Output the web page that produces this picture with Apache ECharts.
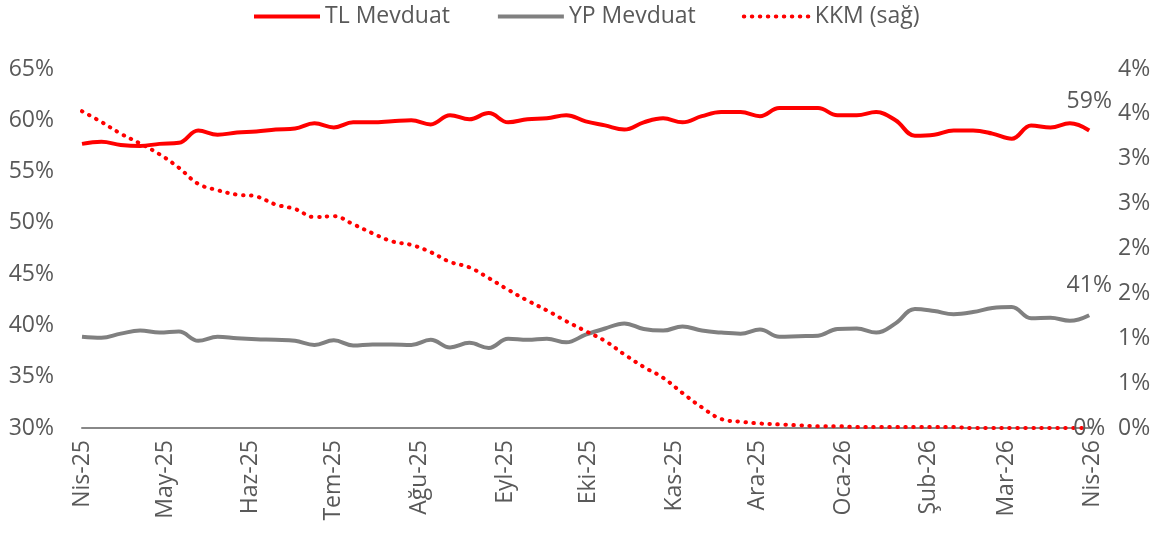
<!DOCTYPE html>
<html>
<head>
<meta charset="utf-8">
<script src="https://cdn.jsdelivr.net/npm/echarts@6/dist/echarts.min.js"></script>
<style>
  html, body { margin: 0; padding: 0; background: #fff; }
  #main { width: 1154px; height: 537px; }
</style>
</head>
<body>
<div id="main"></div>
<script>
// haftalik veriler, 4 Nisan 2025'ten itibaren
var startDate = [2025, 3, 4];
var tlMevduat = [57.7, 57.9, 57.6, 57.5, 57.7, 57.8, 59.0, 58.6, 58.8, 58.9, 59.1, 59.2, 59.7, 59.3,
  59.8, 59.8, 59.9, 60.0, 59.6, 60.5, 60.1, 60.7, 59.8, 60.1, 60.2, 60.5, 59.9, 59.5, 59.1,
  59.8, 60.2, 59.8, 60.4, 60.8, 60.8, 60.4, 61.2, 61.2, 61.2, 60.5, 60.5, 60.8, 60.0, 58.5,
  58.6, 59.0, 59.0, 58.7, 58.2, 59.5, 59.3, 59.7, 59.0];
var ypMevduat = [38.9, 38.8, 39.2, 39.5, 39.3, 39.4, 38.5, 38.9, 38.75, 38.65, 38.6, 38.5, 38.1, 38.55,
  38.05, 38.15, 38.15, 38.1, 38.6, 37.85, 38.3, 37.8, 38.7, 38.6, 38.7, 38.35, 39.1, 39.7, 40.2,
  39.65, 39.5, 39.9, 39.5, 39.3, 39.2, 39.6, 38.9, 38.95, 39.0, 39.65, 39.7, 39.3, 40.2, 41.6,
  41.4, 41.1, 41.3, 41.7, 41.8, 40.7, 40.75, 40.45, 41.0];
var kkm = [3.53, 3.41, 3.28, 3.17, 3.05, 2.90, 2.72, 2.65, 2.60, 2.58, 2.49, 2.44, 2.35, 2.36,
  2.27, 2.17, 2.08, 2.04, 1.96, 1.85, 1.79, 1.67, 1.54, 1.42, 1.31, 1.19, 1.08, 0.97, 0.82,
  0.68, 0.56, 0.39, 0.23, 0.10, 0.07, 0.05, 0.04, 0.03, 0.02, 0.02, 0.01, 0.01, 0.01, 0.01,
  0.01, 0.01, 0.0, 0.0, 0.0, 0.0, 0.0, 0.0, 0.0];
var monthLabels = ['Nis-25', 'May-25', 'Haz-25', 'Tem-25', 'Ağu-25', 'Eyl-25', 'Eki-25',
  'Kas-25', 'Ara-25', 'Oca-26', 'Şub-26', 'Mar-26', 'Nis-26'];

var myChart = echarts.init(document.getElementById('main'));

var dates = [];
for (var i = 0; i < tlMevduat.length; i++) {
  dates.push(new Date(startDate[0], startDate[1], startDate[2] + 7 * i).getTime());
}
var tickDates = monthLabels.map(function (m, j) {
  return new Date(startDate[0], startDate[1] + j, startDate[2]).getTime();
});

// son noktaya etiket
function toData(arr) {
  return arr.map(function (v, k) {
    var item = { value: [dates[k], v] };
    if (k === arr.length - 1) item.label = { show: true };
    return item;
  });
}

var fontName = 'Open Sans';
var grayText = '#595959';

myChart.setOption({
  animation: false,
  textStyle: { fontFamily: fontName },
  legend: {
    top: 0,
    left: 247,
    itemWidth: 66,
    itemHeight: 20,
    itemGap: 46,
    itemStyle: { opacity: 0 },
    lineStyle: { width: 4 },
    textStyle: { fontSize: 23, color: grayText, fontFamily: fontName },
    data: ['TL Mevduat', 'YP Mevduat', 'KKM (sağ)']
  },
  grid: { left: 82, right: 62, top: 69, bottom: 109 },
  xAxis: {
    type: 'value',
    min: tickDates[0],
    max: tickDates[tickDates.length - 1],
    axisLine: { show: true, lineStyle: { color: '#888888', width: 2 } },
    axisTick: { show: false },
    splitLine: { show: false },
    axisLabel: {
      customValues: tickDates,
      rotate: 90,
      margin: 12,
      fontSize: 23,
      color: grayText,
      fontFamily: fontName,
      formatter: function (val) {
        var idx = tickDates.indexOf(val);
        return idx >= 0 ? monthLabels[idx] : '';
      }
    }
  },
  yAxis: [{
    type: 'value',
    min: 30,
    max: 65,
    interval: 5,
    axisLine: { show: false },
    axisTick: { show: false },
    splitLine: { show: false },
    axisLabel: { fontSize: 23, color: grayText, margin: 28, formatter: '{value}%' }
  }, {
    type: 'value',
    min: 0,
    max: 4,
    interval: 0.5,
    axisLine: { show: false },
    axisTick: { show: false },
    splitLine: { show: false },
    axisLabel: {
      fontSize: 23, color: grayText, margin: 26,
      formatter: function (v) { return Math.round(v) + '%'; }
    }
  }],
  series: [{
    name: 'TL Mevduat',
    type: 'line',
    yAxisIndex: 0,
    symbol: 'circle',
    symbolSize: 0,
    smooth: 0.4,
    lineStyle: { color: '#ff0000', width: 4 },
    itemStyle: { color: '#ff0000' },
    label: {
      position: 'top', distance: 18, fontSize: 23, color: grayText,
      formatter: function (p) { return Math.round(p.value[1]) + '%'; }
    },
    data: toData(tlMevduat)
  }, {
    name: 'YP Mevduat',
    type: 'line',
    yAxisIndex: 0,
    symbol: 'circle',
    symbolSize: 0,
    smooth: 0.4,
    lineStyle: { color: '#808080', width: 4 },
    itemStyle: { color: '#808080' },
    label: {
      position: 'top', distance: 18, fontSize: 23, color: grayText,
      formatter: function (p) { return Math.round(p.value[1]) + '%'; }
    },
    data: toData(ypMevduat)
  }, {
    name: 'KKM (sağ)',
    type: 'line',
    yAxisIndex: 1,
    symbol: 'circle',
    symbolSize: 0,
    smooth: 0.4,
    lineStyle: { color: '#ff0000', width: 4, type: [0.5, 7.5], cap: 'round' },
    itemStyle: { color: '#ff0000' },
    label: {
      position: 'inside', fontSize: 23, color: grayText,
      formatter: function (p) { return Math.round(p.value[1]) + '%'; }
    },
    data: toData(kkm)
  }]
});
</script>
</body>
</html>
